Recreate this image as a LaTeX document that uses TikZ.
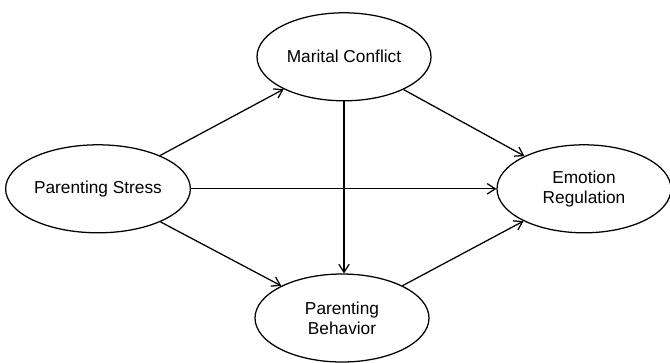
\documentclass[tikz,border=0pt]{standalone}
\usepackage{fontspec}
\setmainfont{Liberation Sans}
\usetikzlibrary{positioning, shapes.geometric, arrows.meta}
\tikzset{
    construct/.style={
        draw, ellipse, line width = 0.9pt,
        minimum width = 4.35cm,
        minimum height = 2.2cm,
        inner sep = 1pt,
        align = center,
        font = \fontsize{12.3}{14.5}\selectfont
    },
    line/.style = {line width = 0.9pt, -{Straight Barb[length=2mm, width=2.6mm, line width=0.9pt]}}
}
\begin{document}
\begin{tikzpicture}

    \useasboundingbox (0,0) rectangle (16.75,-9.05);

    \node[construct] (stress) at (2.45,-4.72) {Parenting Stress};

    % Mediators
    \node[construct] (conflict) at (8.6,-1.42) {Marital Conflict};
    \node[construct] (behavior) at (8.55,-7.95) {Parenting\\Behavior};

    % Outcome
    \node[construct] (emotion) at (14.6,-4.72) {Emotion\\Regulation};

    % Paths
    \draw[line] (stress) -- (conflict);
    \draw[line] (stress) -- (emotion);
    \draw[line] (stress) -- (behavior);
    \draw[line] (conflict) -- (emotion);
    \draw[line] (conflict.south) -- (conflict.south |- behavior.north);
    \draw[line] (behavior) -- (emotion);

\end{tikzpicture}
\end{document}
